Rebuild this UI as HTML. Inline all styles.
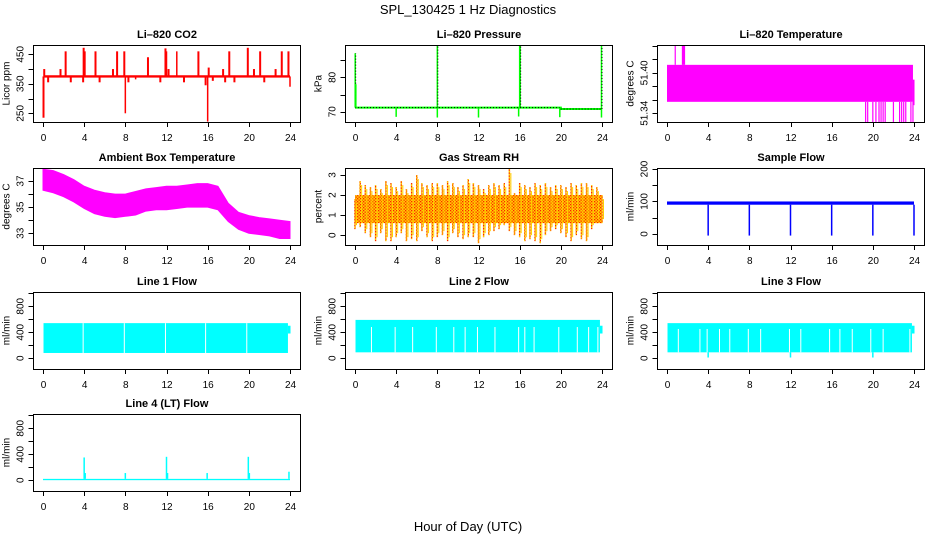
<!DOCTYPE html>
<html><head><meta charset="utf-8"><style>
html,body{margin:0;padding:0;background:#fff}
svg{display:block;font-family:"Liberation Sans",Arial,sans-serif}
</style></head><body>
<svg id="chart" width="936" height="540" viewBox="0 0 936 540" xmlns="http://www.w3.org/2000/svg">
<defs>
<pattern id="rhpat" width="3" height="3" patternUnits="userSpaceOnUse">
<rect width="3" height="3" fill="#ffd000"/><rect x="0" y="0" width="1.3" height="1.3" fill="#ff2000"/><rect x="1.5" y="1.5" width="1.3" height="1.3" fill="#ff2000"/>
</pattern>
</defs>
<text x="468" y="14" font-size="13" text-anchor="middle">SPL_130425  1 Hz Diagnostics</text>
<text x="468" y="531" font-size="13" text-anchor="middle">Hour of Day (UTC)</text>
</svg>
<script>
// ---- data ----
const hourTicks = [0,4,8,12,16,20,24];
// CO2
const co2Base = 375;
const co2SpikeHours = [0.05,0.12,2.2,3.95,4.05,5.1,7.2,7.9,8.0,10.2,11.9,12.0,13.0,15.1,15.8,16.0,16.1,18.1,19.9,21.1,23.2,23.85,24.0,1.7,6.8,12.2,17.5,20.5,22.6,0.5,2.7,3.9,5.5,8.3,11.4,13.7,17.7,18.6,21.5,16.5,9.0];
const co2SpikeVals  = [235,400,460,472,460,460,460,460,250,440,470,460,460,460,345,222,405,460,472,460,460,460,340,400,400,400,400,400,400,355,355,355,355,355,355,355,355,355,355,360,365];
// Pressure
const presBaseHours = [0,20,20,24];
const presBaseVals = [71.2,71.2,70.8,70.8];
const presSpikeHours = [0.02,0.08,8.0,16.0,16.05,23.95,4.0,8.0,12.0,15.9,19.9,23.95];
const presSpikeVals = [87,78,89.4,89.4,89.4,89.4,68.5,68.3,68.3,68.6,68.4,68.3];
// Li-820 temperature
const tempBandHours = [0,23.9];
const tempBandVals = [51.357,51.412];
const tempUpHours = [0.8,1.5,1.6,1.7];
const tempDownHours = [19.3,19.5,20.0,20.3,20.6,20.8,21.0,21.2,22.0,22.6,22.8,23.0,23.2,23.7,23.9];
// Ambient box temperature (hourly envelope)
const ambHigh = [37.9,37.8,37.5,37.1,36.6,36.3,36.1,36.0,36.0,36.2,36.4,36.5,36.6,36.6,36.7,36.8,36.8,36.6,35.3,34.6,34.35,34.2,34.1,34.0,33.9];
const ambLow  = [36.3,36.1,35.8,35.4,34.9,34.5,34.3,34.2,34.3,34.4,34.7,34.8,34.8,34.9,35.0,35.0,35.0,34.8,33.9,33.3,33.0,32.9,32.8,32.6,32.6];
// Gas stream RH (half-hour envelope)
const rhHigh = [1.8,2.7,2.5,2.4,2.5,2.3,2.7,2.6,2.4,2.7,2.3,2.6,3.0,2.6,2.5,2.6,2.6,2.5,2.7,2.6,2.4,2.5,2.8,2.6,2.5,2.3,2.5,2.6,2.5,2.6,3.3,2.1,2.6,2.5,2.4,2.6,2.5,2.6,2.4,2.5,2.5,2.4,2.6,2.5,2.6,2.6,2.5,2.4,2.0];
const rhLow  = [0.3,0.4,0.1,-0.1,-0.3,0.1,-0.3,-0.3,-0.1,0.1,-0.3,-0.2,-0.3,0.2,-0.1,-0.3,-0.1,0.0,-0.3,0.1,-0.1,-0.2,-0.1,-0.1,-0.4,-0.1,0.0,0.2,0.3,0.5,0.2,0.0,-0.1,-0.3,-0.2,-0.3,-0.4,0.0,0.2,0.3,0.1,-0.1,-0.3,0.0,-0.2,-0.3,0.3,0.6,0.6];
const rhCore = [0.6,2.0];
// Sample flow
const sfBand = [90,100];
const sfDropHours = [4,8,12,16,20,24];
const sfDropVals = [-5,-5,-5,-5,-5,-5];
// Line flows
const l1Band = [80,540]; const l1GapHours = [3.9,7.9,11.9,15.8,19.8]; const l1GapTop = 540;
const l2Band = [90,590]; const l2GapHours = [1.6,3.9,5.6,7.9,9.6,10.7,11.9,13.6,15.9,16.5,17.4,19.8,21.6,22.7,23.6]; const l2GapTop = 480;
const l3Band = [90,540]; const l3GapHours = [1.1,3.2,3.9,5.1,6.1,7.9,9.1,11.9,13.0,15.8,16.8,18.0,19.8,21.0,23.6]; const l3GapTop = 450;
const l3DipHours = [4.0,12.0,20.0]; const l3DipVals = [10,10,10];
// Line 4
const l4Base = [0,20];
const l4SpikeHours = [4.0,4.1,8.0,12.0,12.1,15.95,19.95,20.05,23.9];
const l4SpikeVals = [350,110,110,360,110,110,360,110,130];

// ---- drawing ----
const svg = document.getElementById('chart');
const NS = 'http://www.w3.org/2000/svg';
function el(tag, attrs, parent){
  const e = document.createElementNS(NS, tag);
  for (const k in attrs) e.setAttribute(k, attrs[k]);
  (parent||svg).appendChild(e);
  return e;
}
const colX0 = [43,355,667];
const rowTop = [45,168,292,414];
const BOXH = 77;
function panel(name, col, row, title, ylab, yTop, yBot, ticks, labels){
  const g = el('g', {});
  
  
  const x0 = colX0[col], top = rowTop[row], bot = top + BOXH;
  const X = h => x0 + h * 247 / 24;
  const Y = v => top + (yTop - v) / (yTop - yBot) * BOXH;
  const left = x0 - 9.5, right = x0 + 257.5;
  const t = el('text', {x:(left+right)/2, y: top - 7, 'font-size':11, 'font-weight':'bold', 'text-anchor':'middle'}, g);
  t.textContent = title;
  
  
  const plot = el('g', {}, g);
  
  
  const axes = el('g', {stroke:'#000', 'stroke-width':1, fill:'none'}, g);
  
  
  el('rect', {x:left, y:top+0.5, width:right-left, height:BOXH}, axes);
  for (const h of hourTicks){
    el('line', {x1:Math.round(X(h))+0.5, x2:Math.round(X(h))+0.5, y1:bot+0.5, y2:bot+5}, axes);
    const tl = el('text', {x:X(h)+0.5, y:bot+19, 'font-size':10, 'text-anchor':'middle', fill:'#000', stroke:'none'}, g);
    tl.textContent = h;
    
    
  }
  for (const v of ticks){
    const yy = Math.round(Y(v)) + 0.5;
    el('line', {x1:left-5, x2:left, y1:yy, y2:yy}, axes);
  }
  for (const v of labels){
    const yy = Y(v);
    const tl = el('text', {x:0, y:0, 'font-size':10, 'text-anchor':'middle', fill:'#000', transform:`translate(${left-10},${yy}) rotate(-90)`}, g);
    tl.textContent = v;
    
    
  }
  const yl = el('text', {x:0, y:0, 'font-size':10, 'text-anchor':'middle', transform:`translate(${left-24},${top+BOXH/2}) rotate(-90)`}, g);
  yl.textContent = ylab;
  
  
  return {X, Y, g:plot, left, right};
}
function vline(g, x, y1, y2, color, w, name){
  const l = el('line', {x1:x, x2:x, y1:y1, y2:y2, stroke:color, 'stroke-width':w||1}, g);
  
  
  return l;
}
function band(g, X, Y, h0, h1, v0, v1, color, name){
  const r = el('rect', {x:X(h0), y:Y(v1), width:X(h1)-X(h0), height:Y(v0)-Y(v1), fill:color}, g);
  
  
  return r;
}

// CO2
{
  const p = panel('panel-co2',0,0,'Li\u2013820 CO2','Licor ppm',481.5,220.5,[250,300,350,400,450],[250,350,450]);
  band(p.g,p.X,p.Y,0.05,24,co2Base-4,co2Base+4,'#ff0000','co2-baseline');
  co2SpikeHours.forEach((h,i)=>{ vline(p.g,p.X(h),p.Y(co2Base),p.Y(co2SpikeVals[i]),'#ff0000',h%1===0?1.5:2,'co2-spike'); });
}
// Pressure
{
  const p = panel('panel-pressure',1,0,'Li\u2013820 Pressure','kPa',89.4,67,[70,75,80,85],[70,80]);
  const pts = presBaseHours.map((h,i)=>p.X(h)+','+p.Y(presBaseVals[i])).join(' ');
  const pl = el('polyline',{points:pts,fill:'none',stroke:'#00ff00','stroke-width':2},p.g);
  
  
  const pd = el('polyline',{points:pts,fill:'none',stroke:'#000','stroke-width':1,'stroke-dasharray':'1 2'},p.g);
  
  
  presSpikeHours.forEach((h,i)=>{
    const base = h>=20?70.8:71.2;
    vline(p.g,p.X(h),p.Y(base),p.Y(presSpikeVals[i]),'#00ff00',1.5,'pressure-spike');
    if (presSpikeVals[i]>80){ const d=vline(p.g,p.X(h)+0.5,p.Y(base),p.Y(presSpikeVals[i]),'#000',1,'pressure-spike-dots'); d.setAttribute('stroke-dasharray','1 2'); }
  });
}
// Li-820 temperature
{
  const p = panel('panel-li820-temp',2,0,'Li\u2013820 Temperature','degrees C',51.4415,51.327,[51.34,51.36,51.38,51.40,51.42,51.44],['51.34','51.40']);
  band(p.g,p.X,p.Y,tempBandHours[0],tempBandHours[1],tempBandVals[0],tempBandVals[1],'#ff00ff','temp-band');
  band(p.g,p.X,p.Y,23.9,24.05,51.352,51.39,'#ff00ff','temp-end');
  tempUpHours.forEach(h=>vline(p.g,p.X(h),p.Y(tempBandVals[1]),p.Y(51.4415),'#ff00ff',1.2,'temp-spike-up'));
  tempDownHours.forEach(h=>vline(p.g,p.X(h),p.Y(tempBandVals[0]),p.Y(51.327),'#ff00ff',1.2,'temp-spike-down'));
}
// Ambient box temperature
{
  const p = panel('panel-ambient-temp',0,1,'Ambient Box Temperature','degrees C',38.0,32.1,[33,34,35,36,37],[33,35,37]);
  let pts = ambHigh.map((v,i)=>p.X(i)+','+p.Y(v));
  pts = pts.concat(ambLow.map((v,i)=>p.X(i)+','+p.Y(v)).reverse());
  const pg = el('polygon',{points:pts.join(' '),fill:'#ff00ff',stroke:'#ff00ff','stroke-width':1},p.g);
  
  
}
// RH
{
  const p = panel('panel-rh',1,1,'Gas Stream RH','percent',3.35,-0.49,[0,1,2,3],[0,1,2,3]);
  band(p.g,p.X,p.Y,0,24,rhCore[0],rhCore[1],'url(#rhpat)','rh-core');
  rhHigh.forEach((v,i)=>{ const h=i*0.5; vline(p.g,p.X(h),p.Y(rhLow[i]),p.Y(v),'url(#rhpat)',1.5,'rh-spike'); vline(p.g,p.X(h)+1.5,p.Y(rhLow[i]+0.2),p.Y(v-0.2),'#ffd000',1,'rh-spike-shade'); });
}
// Sample flow
{
  const p = panel('panel-sample-flow',2,1,'Sample Flow','ml/min',203,-34,[0,50,100,150,200],[0,100,200]);
  band(p.g,p.X,p.Y,0,24,sfBand[0],sfBand[1],'#0000ff','sample-flow-band');
  sfDropHours.forEach((h,i)=>vline(p.g,p.X(h),p.Y(sfBand[0]),p.Y(sfDropVals[i]),'#0000ff',1.5,'sample-flow-drop'));
}
// Line flows
function flowPanel(name,col,row,title,bandV,gaps,gapTop){
  const p = panel(name,col,row,title,'ml/min',1020,-167,[0,200,400,600,800,1000],[0,400,800]);
  band(p.g,p.X,p.Y,0.05,23.8,bandV[0],bandV[1],'#00ffff',name+'-band');
  band(p.g,p.X,p.Y,23.8,24.05,380,500,'#00ffff',name+'-end');
  gaps.forEach(h=>vline(p.g,p.X(h),p.Y(bandV[0]),p.Y(gapTop),'#ffffff',1,'flow-gap'));
  return p;
}
flowPanel('panel-line1-flow',0,2,'Line 1 Flow',l1Band,l1GapHours,l1GapTop);
flowPanel('panel-line2-flow',1,2,'Line 2 Flow',l2Band,l2GapHours,l2GapTop);
{
  const p = flowPanel('panel-line3-flow',2,2,'Line 3 Flow',l3Band,l3GapHours,l3GapTop);
  l3DipHours.forEach((h,i)=>vline(p.g,p.X(h),p.Y(l3Band[0]),p.Y(l3DipVals[i]),'#00ffff',1.5,'line3-dip'));
}
{
  const p = panel('panel-line4-flow',0,3,'Line 4 (LT) Flow','ml/min',1020,-167,[0,200,400,600,800,1000],[0,400,800]);
  band(p.g,p.X,p.Y,0,24,l4Base[0],l4Base[1],'#00ffff','line4-baseline');
  l4SpikeHours.forEach((h,i)=>vline(p.g,p.X(h),p.Y(l4Base[1]),p.Y(l4SpikeVals[i]),'#00ffff',1.5,'line4-spike'));
}
</script>
</body></html>
